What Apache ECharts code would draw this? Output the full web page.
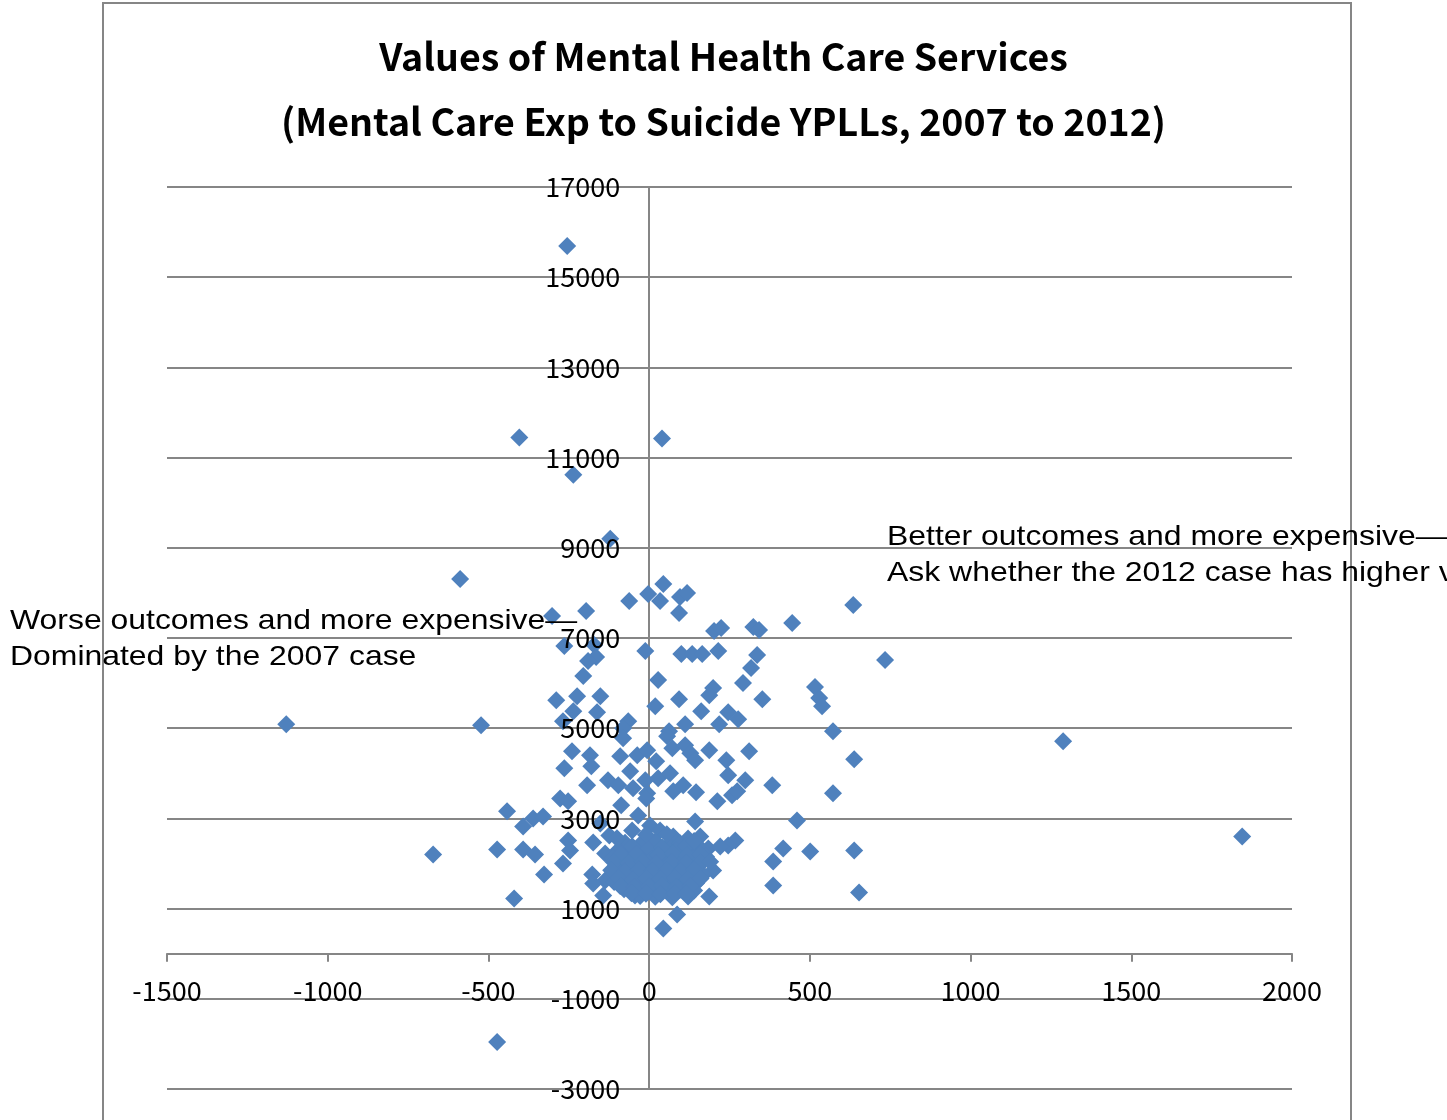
<!DOCTYPE html>
<html>
<head>
<meta charset="utf-8">
<title>Values of Mental Health Care Services</title>
<script src="https://cdn.jsdelivr.net/npm/echarts@6/dist/echarts.min.js"></script>
<style>
  html, body { margin: 0; padding: 0; background: #ffffff; }
  #chart { width: 1447px; height: 1120px; }
</style>
</head>
<body>
<div id="chart"></div>
<script>
// Change in mental care expenditure (x) and change in suicide YPLLs (y), 2007 to 2012
const expChange = [
  -255, -404, 40, -236, -121, -588, -1129, -523, 1288, 1845, -473, -672,
  -302, -196, -62, -3, 44, 34, 96, 118, 93, 635, 445, 202, 224, 324, 342, 734,
  -264, -171, -12, 100, 134, 165, 215, 336, 317, -165, -190, -205, 28, 292,
  199, 516, 529, 538, 352, 187, 93, 19, 162, -289, -224, -152, -236, -162,
  -268, -65, -81, -81, 112, 218, 246, 277, 572, 62, 56, -240, -184, -180,
  -264, -90, -37, -6, 22, 72, 112, 128, 143, 187, 240, 311, 638, 246, 299,
  383, -59, -128, -96, -193, -12, 28, 65, -50, -6, 106, 75, 146, 212, 258,
  274, 572, -277, -252, -87, -9, -442, -361, -330, -392, -152, -34, 143, 460,
  -252, -174, -124, -473, -392, -355, -246, -268, -327, -420, -177, -137,
  -174, -143, 268, 246, 417, 386, 501, 638, 386, 653, 199, 187, 87, 44,
  3, 34, -53, 75, 121, 159, -137, -81, 184, 221, -90, -44, -6, 34, 121,
  -75, -28, 19, 59, 96, 134,
  -96, -53, -3, 40, 84, 128, 168,
  -115, -72, -28, 9, 50, 90, 137, 177,
  -103, -59, -16, 25, 65, 109, 152,
  -90, -47, -3, 37, 81, 124, 168,
  -109, -65, -22, 19, 59, 103, 146,
  -78, -34, 9, 53, 96, 140,
  -28, 19, 72,
  -53, 40, 115,
  -87, -40, 28, 75, 118, 160,
  -110, -65, -20, 22, 70, 115, 160, 190,
  -118, -75, -32, 10, 55, 98, 140,
  -95, -50, -8, 35, 78, 120, 160,
  -90, -45, 0, 40, 85, 128,
  -55, -10, 35, 80, 115,
  -100, -10, 55, 140
];
const ypllChange = [
  15690, 11444, 11422, 10622, 9200, 8310, 5089, 5067, 4711, 2600, -1956, 2200,
  7489, 7600, 7822, 7978, 8200, 7822, 7911, 8000, 7556, 7733, 7333, 7156, 7222, 7244, 7178, 6511,
  6822, 6844, 6711, 6644, 6644, 6644, 6711, 6622, 6333, 6578, 6489, 6156, 6067, 6000,
  5889, 5911, 5667, 5489, 5644, 5733, 5644, 5489, 5378, 5622, 5711, 5711, 5378, 5356,
  5156, 5156, 5000, 4778, 5089, 5089, 5356, 5200, 4933, 4933, 4822, 4489, 4400, 4156,
  4111, 4378, 4400, 4511, 4267, 4556, 4622, 4444, 4289, 4511, 4289, 4489, 4311, 3956, 3844,
  3733, 4044, 3844, 3733, 3733, 3844, 3889, 4000, 3667, 3556, 3733, 3600, 3578, 3378, 3511,
  3600, 3556, 3444, 3378, 3289, 3444, 3156, 3000, 3044, 2822, 2889, 3067, 2933, 2956,
  2511, 2467, 2622, 2311, 2311, 2200, 2289, 2000, 1756, 1222, 1756, 1622,
  1556, 1289, 2511, 2400, 2333, 2044, 2267, 2289, 1511, 1356, 1844, 1267, 867, 556,
  2844, 2733, 2733, 2600, 2556, 2600, 2222, 2333, 2333, 2378, 1511, 1289, 1378, 1378, 1267,
  2460, 2420, 2480, 2400, 2450, 2410,
  2300, 2260, 2310, 2270, 2290, 2250, 2280,
  2120, 2090, 2140, 2100, 2130, 2080, 2110, 2150,
  1950, 1910, 1940, 1920, 1960, 1900, 1930,
  1770, 1740, 1780, 1730, 1760, 1720, 1750,
  1590, 1560, 1600, 1570, 1550, 1590, 1560,
  1430, 1400, 1440, 1410, 1420, 1400,
  1280, 1260, 1250,
  2380, 2360, 2390,
  2200, 2210, 2190, 2220, 2180, 2200,
  2030, 2010, 2040, 2000, 2030, 2010, 2020, 2040,
  1850, 1830, 1860, 1840, 1850, 1830, 1860,
  1680, 1650, 1670, 1660, 1680, 1650, 1670,
  1500, 1480, 1490, 1510, 1480, 1500,
  1340, 1330, 1320, 1340, 1330,
  2560, 2640, 2650, 2500
];

// Axis scales and tick labels
const xTicks = { min: -1500, max: 2000, step: 500 };
const yTicks = { min: -3000, max: 17000, step: 2000 };

const chartTitle = ['Values of Mental Health Care Services', '(Mental Care Exp to Suicide YPLLs, 2007 to 2012)'];
const noteBetter = ['Better outcomes and more expensive\u2014', 'Ask whether the 2012 case has higher value'];
const noteWorse = ['Worse outcomes and more expensive\u2014', 'Dominated by the 2007 case'];

const points = expChange.map((x, i) => [x, ypllChange[i]]);

const gridColor = '#868686';
const labelFont = '"Noto Sans CJK KR", "Noto Sans", sans-serif';
const plainNumber = (v) => String(v);

// plot area in pixels
const plot = { left: 167, right: 155, top: 187, bottom: 31 };
const plotWidth = 1447 - plot.left - plot.right;
const plotHeight = 1120 - plot.top - plot.bottom;
// pixel offsets of the zero lines from the plot edges
const xZeroShift = (0 - yTicks.min) / (yTicks.max - yTicks.min) * plotHeight;
const yZeroShift = (0 - xTicks.min) / (xTicks.max - xTicks.min) * plotWidth;

const chart = echarts.init(document.getElementById('chart'), null, { renderer: 'canvas' });

chart.setOption({
  animation: false,
  backgroundColor: '#ffffff',
  title: {
    text: chartTitle.join('\n'),
    left: 'center',
    top: 19,
    textStyle: {
      fontFamily: labelFont,
      fontWeight: 'bold',
      fontSize: 37.5,
      lineHeight: 65,
      color: '#000000'
    }
  },
  grid: {
    left: plot.left, right: plot.right, top: plot.top, bottom: plot.bottom,
    containLabel: false,
    outerBoundsMode: 'none'
  },
  xAxis: {
    type: 'value',
    position: 'bottom',
    offset: -xZeroShift,
    min: xTicks.min,
    max: xTicks.max,
    interval: xTicks.step,
    axisLine: { onZero: false, lineStyle: { color: gridColor, width: 2 } },
    axisTick: { show: true, length: 8, lineStyle: { color: gridColor, width: 2 } },
    axisLabel: { margin: 24, fontFamily: labelFont, fontSize: 27, color: '#000000', formatter: plainNumber },
    splitLine: { show: false }
  },
  yAxis: [
    {
      type: 'value',
      position: 'left',
      offset: -yZeroShift,
      min: yTicks.min,
      max: yTicks.max,
      interval: yTicks.step,
      axisLine: { show: true, onZero: false, lineStyle: { color: gridColor, width: 2 } },
      axisTick: { show: true, length: 8, lineStyle: { color: gridColor, width: 2 } },
      axisLabel: { show: false },
      splitLine: { show: true, lineStyle: { color: gridColor, width: 2 } }
    },
    {
      // label layer drawn above the markers, on the x = 0 line
      type: 'value',
      position: 'left',
      offset: -yZeroShift,
      min: yTicks.min,
      max: yTicks.max,
      interval: yTicks.step,
      z: 10,
      axisLine: { show: false, onZero: false },
      axisTick: { show: false },
      splitLine: { show: false },
      axisLabel: { margin: 29, fontFamily: labelFont, fontSize: 27, color: '#000000', formatter: plainNumber }
    }
  ],
  series: [{
    type: 'scatter',
    xAxisIndex: 0,
    yAxisIndex: 0,
    symbol: 'diamond',
    symbolSize: 18,
    z: 2,
    itemStyle: { color: '#4F81BD', opacity: 1 },
    data: points
  }],
  graphic: [
    {
      type: 'rect',
      z: -10,
      silent: true,
      shape: { x: 103, y: 3, width: 1248, height: 1200 },
      style: { fill: 'none', stroke: gridColor, lineWidth: 2 }
    },
    {
      type: 'text',
      x: 887,
      y: 519,
      scaleX: 1.14,
      z: 20,
      style: {
        text: noteBetter.join('\n'),
        font: '28px "Liberation Sans", Arial, sans-serif',
        lineHeight: 36,
        fill: '#000000',
        textVerticalAlign: 'top'
      }
    },
    {
      type: 'text',
      x: 10,
      y: 603,
      scaleX: 1.14,
      z: 20,
      style: {
        text: noteWorse.join('\n'),
        font: '28px "Liberation Sans", Arial, sans-serif',
        lineHeight: 36,
        fill: '#000000',
        textVerticalAlign: 'top'
      }
    }
  ]
});
</script>
</body>
</html>
